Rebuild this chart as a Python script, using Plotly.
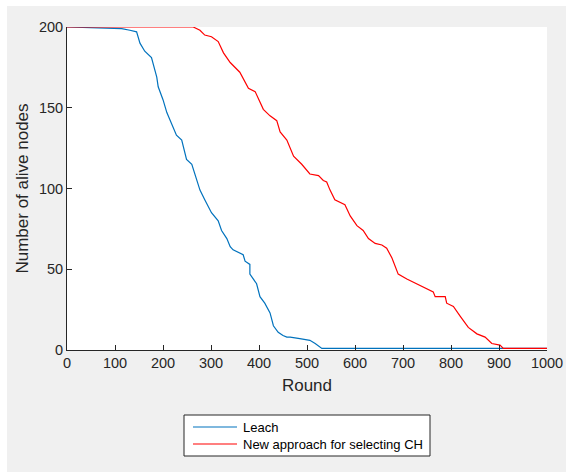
import plotly.graph_objects as go

# Data (round, alive nodes)
leach_round = [0, 114, 131, 145, 152, 162, 176, 187, 190, 200, 208, 218, 228, 239, 249, 260,
               270, 277, 287, 301, 315, 322, 333, 340, 346, 367, 371, 381, 381, 388, 395, 402,
               412, 423, 430, 440, 450, 458, 465, 485, 506, 517, 531, 1000]
leach_alive = [200, 199, 198, 197, 190, 185, 181, 169, 163, 155, 147, 140, 133, 130, 118, 115,
               105, 99, 93, 85, 80, 74, 69, 64, 62, 59, 55, 53, 47, 44, 41, 33,
               29, 23, 15, 11, 9, 8, 8, 7, 6, 4, 1, 1]

new_round = [0, 263, 277, 287, 301, 315, 326, 340, 360, 378, 392, 409, 423, 437, 444, 458,
             472, 489, 506, 524, 534, 541, 548, 558, 579, 590, 604, 617, 628, 642, 656, 666,
             677, 690, 708, 729, 749, 763, 767, 788, 791, 805, 819, 836, 854, 871, 885, 902,
             909, 1000]
new_alive = [200, 200, 198, 195, 194, 191, 184, 178, 172, 162, 160, 149, 145, 142, 135, 130,
             120, 115, 109, 108, 105, 104, 99, 93, 90, 83, 77, 74, 69, 66, 65, 63,
             57, 47, 44, 41, 38, 36, 33, 33, 29, 27, 21, 14, 10, 8, 4, 3,
             1, 1]

series_names = ["Leach", "New approach for selecting CH"]
series_colors = ["#0072BD", "#FF0000"]
x_ticks = [0, 100, 200, 300, 400, 500, 600, 700, 800, 900, 1000]
y_ticks = [0, 50, 100, 150, 200]

FONT = "Liberation Sans, Arial, sans-serif"
AX = "#262626"

fig = go.Figure()
for xs, ys, name, col in [(leach_round, leach_alive, series_names[0], series_colors[0]),
                          (new_round, new_alive, series_names[1], series_colors[1])]:
    fig.add_trace(go.Scatter(x=xs, y=ys, mode="lines", name=name,
                             line=dict(color=col, width=1.2), cliponaxis=False))

W, H = 566, 472
L, R, T, B = 67, 547, 27, 350
pw, ph = R - L, B - T

def px2x(p):
    return (p - L) / pw

def py2y(p):
    return (B - p) / ph

shapes = [
    # white page border around the grey figure
    dict(type="rect", xref="paper", yref="paper", x0=-0.3, x1=1.2,
         y0=py2y(6), y1=py2y(-20), fillcolor="white", line=dict(width=0), layer="below"),
    dict(type="rect", xref="paper", yref="paper", x0=px2x(-20), x1=px2x(7),
         y0=py2y(500), y1=py2y(-20), fillcolor="white", line=dict(width=0), layer="below"),
    # legend box
    dict(type="rect", xref="paper", yref="paper", x0=px2x(184), x1=px2x(430),
         y0=py2y(456), y1=py2y(415), fillcolor="white", line=dict(color=AX, width=1)),
]
annotations = []
row_y = [427, 444]
for i, (name, col) in enumerate(zip(series_names, series_colors)):
    shapes.append(dict(type="line", xref="paper", yref="paper", x0=px2x(193), x1=px2x(237),
                       y0=py2y(row_y[i]), y1=py2y(row_y[i]), line=dict(color=col, width=1.2)))
    annotations.append(dict(text=name, xref="paper", yref="paper", x=px2x(241), y=py2y(row_y[i]),
                            xanchor="left", yanchor="middle", showarrow=False,
                            font=dict(family=FONT, size=13, color="#000000")))

fig.update_layout(
    width=W, height=H, autosize=False,
    margin=dict(l=L, r=W - R, t=T, b=H - B, pad=0),
    paper_bgcolor="#f0f0f0", plot_bgcolor="white",
    font=dict(family=FONT, color=AX, size=14),
    showlegend=False,
    shapes=shapes, annotations=annotations,
)
fig.update_xaxes(range=[0, 1000], tickvals=x_ticks, ticks="inside", ticklen=5,
                 tickcolor=AX, showline=True, linecolor=AX, linewidth=1, showgrid=False,
                 zeroline=False, tickfont=dict(size=14.5, color=AX), automargin=False,
                 title=dict(text="Round", font=dict(size=17, color=AX), standoff=8))
fig.update_yaxes(range=[0, 200], tickvals=y_ticks, ticks="inside", ticklen=5,
                 tickcolor=AX, showline=True, linecolor=AX, linewidth=1, showgrid=False,
                 zeroline=False, tickfont=dict(size=14.5, color=AX), automargin=False,
                 title=dict(text="Number of alive nodes", font=dict(size=17, color=AX), standoff=5))

fig.write_html("out.html")
